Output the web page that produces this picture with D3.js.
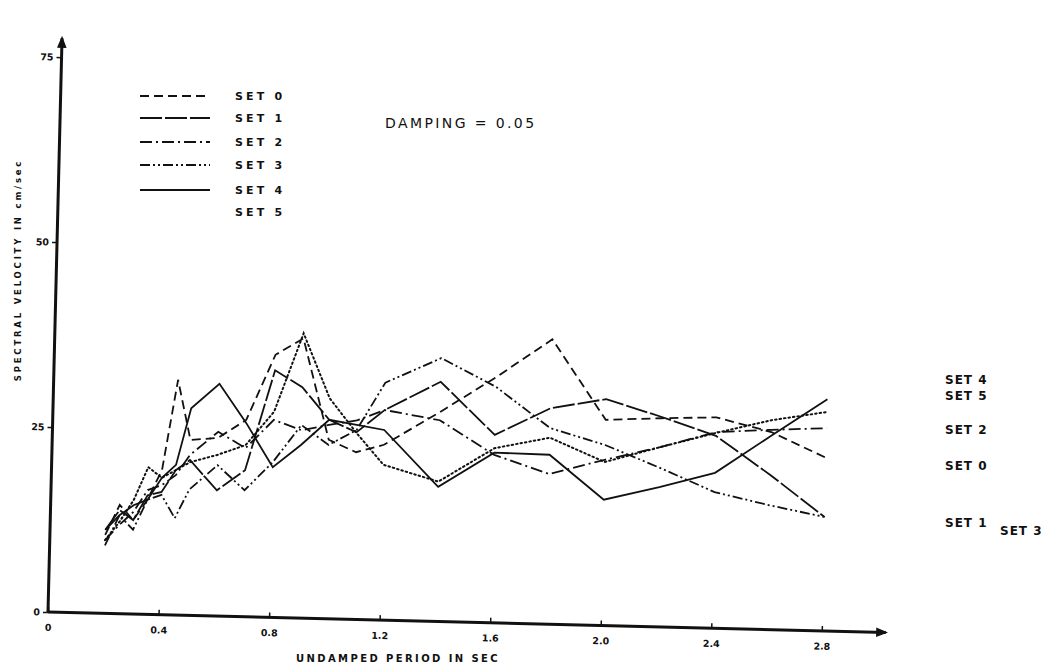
<!DOCTYPE html>
<html>
<head>
<meta charset="utf-8">
<script src="https://cdn.jsdelivr.net/npm/d3@7"></script>
<style>
  body { margin: 0; background: #fff; }
  text { font-family: "DejaVu Sans", sans-serif; fill: #111; }
</style>
</head>
<body>
<script>
// undamped periods (sec) shared by all sets
var periods = [0.2, 0.25, 0.3, 0.35, 0.4, 0.45, 0.5, 0.6, 0.7, 0.8, 0.9, 1.0, 1.1, 1.2, 1.4, 1.6, 1.8, 2.0, 2.2, 2.4, 2.6, 2.8];

// spectral velocity, cm/sec
var set0 = [10.6, 14.7, 12.7, 15.5, 19.6, 31.8, 23.7, 24.1, 26.6, 35.5, 37.8, 24.2, 22.6, 23.7, 28.3, 33.2, 38.5, 27.8, 28.2, 28.5, 26.7, 23.4];
var set1 = [11.3, 14.0, 12.7, 16.1, 16.6, 19.6, 21.0, 17.0, 19.8, 33.4, 31.2, 26.9, 25.3, 28.4, 32.4, 25.4, 29.2, 30.6, 28.4, 26.0, 20.9, 15.4];
var set2 = [9.9, 12.0, 13.8, 16.8, 17.5, 18.9, 21.7, 24.9, 22.8, 26.7, 25.4, 26.2, 26.9, 28.4, 27.2, 22.7, 20.3, 22.4, 24.3, 26.5, 27.0, 27.4];
var set3 = [9.2, 13.3, 11.4, 15.5, 16.2, 13.1, 17.0, 20.4, 17.1, 21.0, 26.1, 23.5, 25.6, 32.1, 35.6, 31.9, 26.5, 24.4, 21.5, 18.4, 16.8, 15.4];
var set4 = [11.3, 13.3, 14.7, 15.5, 18.5, 20.3, 28.0, 31.4, 26.2, 20.3, 23.4, 26.9, 26.3, 25.7, 18.2, 23.0, 22.9, 17.0, 18.9, 21.0, 26.2, 31.3];
var set5 = [9.9, 12.4, 15.4, 19.9, 18.5, 19.6, 20.7, 21.8, 23.2, 27.8, 38.5, 29.8, 25.2, 21.0, 18.9, 23.6, 25.2, 22.1, 24.3, 26.4, 28.3, 29.6];

var setNames = ["SET 0", "SET 1", "SET 2", "SET 3", "SET 4", "SET 5"];
var xTicks = [0, 0.4, 0.8, 1.2, 1.6, 2.0, 2.4, 2.8];
var yTicks = [0, 25, 50, 75];

var width = 1060, height = 671;

var allSets = [set0, set1, set2, set3, set4, set5];
var dashes = ["9,5", "22,3", "12,4,2,4", "10,3,2,3,2,3", null, "1.5,3"];

var svg = d3.select("body").append("svg")
    .attr("width", width)
    .attr("height", height);

// the scanned sheet sits a little skewed
var plot = svg.append("g").attr("transform", "rotate(1.4,48,612)");

var x = d3.scaleLinear().domain([0, 2.8]).range([48, 822]);
var y = d3.scaleLinear().domain([0, 75]).range([612, 57]);

svg.append("defs").append("marker")
    .attr("id", "arrow")
    .attr("viewBox", "0 0 10 10")
    .attr("refX", 8).attr("refY", 5)
    .attr("markerWidth", 4).attr("markerHeight", 4)
    .attr("orient", "auto")
  .append("path")
    .attr("d", "M0,1 L10,5 L0,9 Z")
    .attr("fill", "#111");

// axes
var xAxis = plot.append("g")
    .attr("transform", "translate(0," + y(0) + ")")
    .call(d3.axisBottom(x).tickValues(xTicks).tickSize(-5).tickPadding(12)
        .tickFormat(function(d) { return d === 0 ? "0" : d3.format(".1f")(d); }));
xAxis.select(".domain").remove();
xAxis.selectAll("line").attr("stroke", "#111").attr("stroke-width", 1.5);
xAxis.selectAll("text").style("font-size", "9.5px").style("font-weight", "bold")
    .style("font-family", "DejaVu Sans, sans-serif").attr("fill", "#111");

var yAxis = plot.append("g")
    .attr("transform", "translate(" + x(0) + ",0)")
    .call(d3.axisLeft(y).tickValues(yTicks).tickSize(5).tickPadding(3));
yAxis.select(".domain").remove();
yAxis.selectAll("line").attr("stroke", "#111").attr("stroke-width", 1.5);
yAxis.selectAll("text").style("font-size", "9.5px").style("font-weight", "bold")
    .style("font-family", "DejaVu Sans, sans-serif").attr("fill", "#111");

plot.append("line")
    .attr("x1", x(0)).attr("y1", y(0))
    .attr("x2", 886).attr("y2", y(0))
    .attr("stroke", "#111").attr("stroke-width", 3)
    .attr("marker-end", "url(#arrow)");
plot.append("line")
    .attr("x1", x(0)).attr("y1", y(0))
    .attr("x2", x(0)).attr("y2", 38)
    .attr("stroke", "#111").attr("stroke-width", 3)
    .attr("marker-end", "url(#arrow)");

// curves
var line = d3.line()
    .x(function(d, i) { return x(periods[i]); })
    .y(function(d) { return y(d); });

plot.selectAll(".set")
    .data(allSets)
    .enter().append("path")
    .attr("class", "set")
    .attr("d", line)
    .attr("fill", "none")
    .attr("stroke", "#111")
    .attr("stroke-width", function(d, i) { return i === 5 ? 2 : 1.8; })
    .attr("stroke-linecap", function(d, i) { return i === 5 ? "round" : "butt"; })
    .attr("stroke-dasharray", function(d, i) { return dashes[i]; });

// axis titles
svg.append("text")
    .attr("transform", "translate(21,270) rotate(-90)")
    .attr("text-anchor", "middle")
    .style("font-size", "8.5px").style("font-weight", "bold").style("letter-spacing", "2.8px")
    .text("SPECTRAL VELOCITY IN cm/sec");

svg.append("text")
    .attr("x", 398).attr("y", 662)
    .attr("text-anchor", "middle")
    .style("font-size", "10px").style("font-weight", "bold").style("letter-spacing", "2.4px")
    .text("UNDAMPED PERIOD IN SEC");

svg.append("text")
    .attr("x", 385).attr("y", 128)
    .style("font-size", "14px").style("letter-spacing", "2.4px")
    .text("DAMPING = 0.05");

// legend
var legendY = [96, 118, 142, 165, 190, 212];
var legend = svg.selectAll(".legend")
    .data(setNames)
    .enter().append("g")
    .attr("class", "legend")
    .attr("transform", function(d, i) { return "translate(0," + legendY[i] + ")"; });

legend.filter(function(d, i) { return i < 5; }).append("line")
    .attr("x1", 140).attr("x2", 210)
    .attr("stroke", "#111").attr("stroke-width", 1.8)
    .attr("stroke-dasharray", function(d) { return dashes[setNames.indexOf(d)]; });

legend.append("text")
    .attr("x", 235).attr("y", 4)
    .style("font-size", "11px").style("font-weight", "bold").style("letter-spacing", "3.2px")
    .text(function(d) { return d; });

// labels at the right end of the curves
var endLabels = [
  {name: "SET 4", lx: 945, ly: 384},
  {name: "SET 5", lx: 945, ly: 400},
  {name: "SET 2", lx: 945, ly: 434},
  {name: "SET 0", lx: 945, ly: 470},
  {name: "SET 1", lx: 945, ly: 527},
  {name: "SET 3", lx: 1000, ly: 535}
];
svg.selectAll(".endlabel")
    .data(endLabels)
    .enter().append("text")
    .attr("class", "endlabel")
    .attr("x", function(d) { return d.lx; })
    .attr("y", function(d) { return d.ly; })
    .style("font-size", "12px").style("font-weight", "bold").style("letter-spacing", "1px")
    .text(function(d) { return d.name; });
</script>
</body>
</html>
